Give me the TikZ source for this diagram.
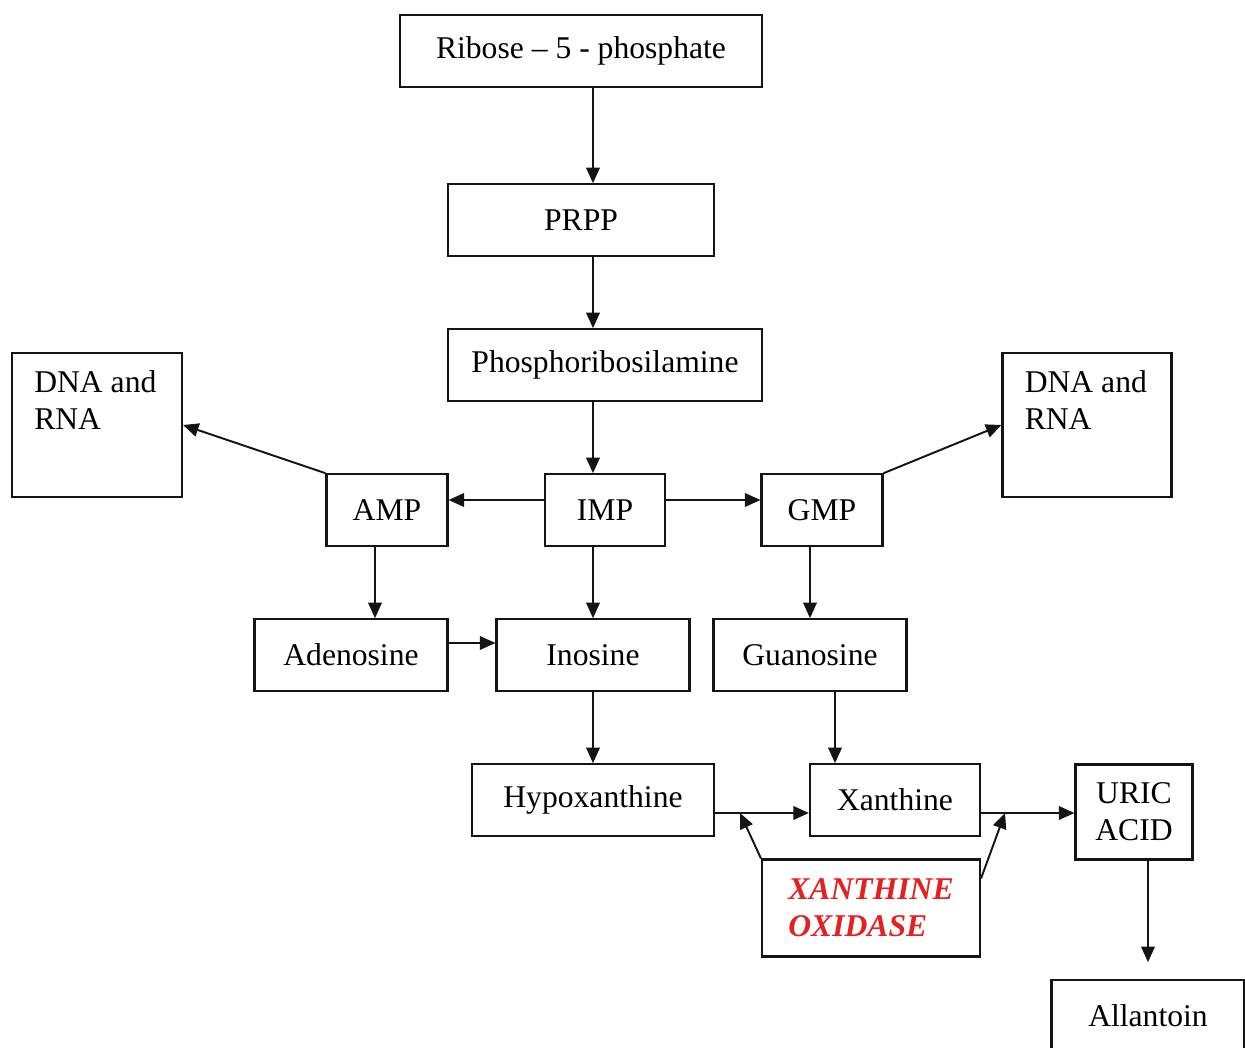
\documentclass[tikz,border=0pt]{standalone}
\usepackage{fontspec}
\setmainfont{Liberation Serif}
\usetikzlibrary{arrows.meta,positioning}
\definecolor{xored}{RGB}{228,32,32}
\definecolor{ink}{RGB}{20,20,20}
\tikzset{
  >={Triangle[length=3.1mm,width=2.7mm]},
  box/.style={draw=ink,line width=1.2pt,fill=white,minimum width=#1,minimum height=14.3mm,
    inner sep=2pt,align=center,font=\fontsize{18}{21}\selectfont},
  box/.default=24mm,
  flow/.style={->,line width=1.1pt,draw=ink},
  corner text/.style={anchor=north west,align=left,inner sep=0pt,xshift=4.6mm,yshift=-3.6mm,
    font=\fontsize{18}{21}\selectfont},
}
\begin{document}
\begin{tikzpicture}[x=0.2mm,y=-0.2mm]
  \useasboundingbox (0,0) rectangle (1245,1048);
  \node[box=72.4mm] (ribose) at (581,51) {Ribose -- 5 - phosphate};
  \node[box=53.2mm] (prpp) at (581,220) {PRPP};
  \node[box=62.8mm] (phos) at (605,365) {Phosphoribosilamine};
  \node[box=34mm,minimum height=28.8mm,label={[corner text]north west:DNA and\\RNA}] (dnaL) at (97,425) {};
  \node[box=33.8mm,minimum height=28.8mm,label={[corner text]north west:DNA and\\RNA}] (dnaR) at (1087,425) {};
  \node[box=24.2mm] (amp) at (387,510) {AMP};
  \node[box] (imp) at (605,510) {IMP};
  \node[box=24.2mm] (gmp) at (822,510) {GMP};
  \node[box=38.6mm] (adeno) at (351,655) {Adenosine};
  \node[box=38.6mm] (ino) at (593,655) {Inosine};
  \node[box=38.6mm] (guano) at (810,655) {Guanosine};
  \node[box=48.4mm] (hypox) at (593,800) {Hypoxanthine};
  \node[box=34mm] (xan) at (895,800) {Xanthine};
  \node[box=23.4mm,minimum height=19mm] (uric) at (1134,812) {URIC\\ACID};
  \node[box=43.6mm,minimum height=19.4mm,align=left,text=xored,
    font=\fontsize{18}{21}\selectfont\bfseries\itshape] (xo) at (871,908) {XANTHINE\\OXIDASE};
  \node[box=38.6mm] (allan) at (1148,1016) {Allantoin};
  % free ends of the enzyme arrows
  \coordinate (xoL) at (740,813);
  \coordinate (xoR) at (1005,813);

  \draw[flow] (ribose.south -| ino) -- (prpp.north -| ino);
  \draw[flow] (prpp.south -| ino) -- (phos.north -| ino);
  \draw[flow] (phos.south -| ino) -- (imp.north -| ino);
  \draw[flow] ([yshift=2mm]imp.west) -- ([yshift=2mm]amp.east);
  \draw[flow] ([yshift=2mm]imp.east) -- ([yshift=2mm]gmp.west);
  \draw[flow] (amp.north west) -- (dnaL.east);
  \draw[flow] (gmp.north east) -- (dnaR.west);
  \draw[flow] ([xshift=-2.4mm]amp.south) coordinate (a) -- (a |- adeno.north);
  \draw[flow] (imp.south -| ino) -- (ino.north);
  \draw[flow] (gmp.south -| guano) -- (guano.north);
  \draw[flow] ([yshift=2.4mm]adeno.east) -- ([yshift=2.4mm]ino.west);
  \draw[flow] (ino.south) -- (hypox.north -| ino);
  \draw[flow] ([xshift=5mm]guano.south) coordinate (g) -- (g |- xan.north);
  \draw[flow] (hypox.east |- xoL) -- (xan.west |- xoL);
  \draw[flow] (xan.east |- xoR) -- (uric.west |- xoR);
  \draw[flow] (xo.north west) -- (xoL);
  \draw[flow] ([yshift=-4mm]xo.north east) -- (xoR);
  \draw[flow,shorten >=3.4mm] (uric.south -| allan) -- (allan.north);
\end{tikzpicture}
\end{document}
